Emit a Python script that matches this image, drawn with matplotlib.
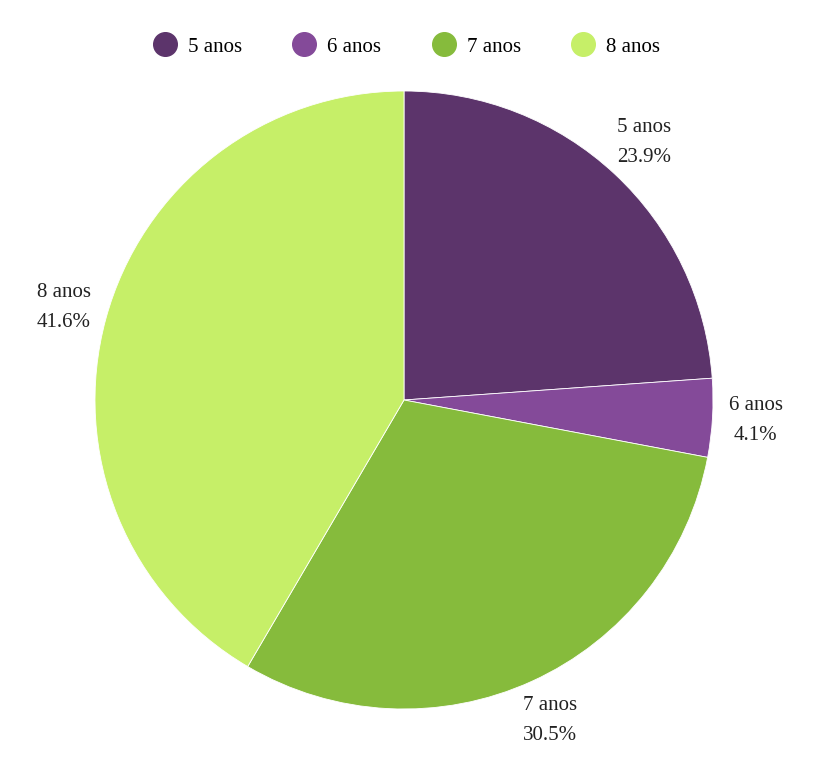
import matplotlib
matplotlib.use("Agg")
import matplotlib.pyplot as plt
from matplotlib.lines import Line2D

categories = ["5 anos", "6 anos", "7 anos", "8 anos"]
values = [23.9, 4.1, 30.5, 41.6]
colors = ["#5c346b", "#844a99", "#86bb3c", "#c6ef68"]

plt.rcParams['font.family'] = ['Liberation Serif', 'DejaVu Serif']

W, H = 814, 768
fig = plt.figure(figsize=(W/100, H/100), dpi=100)
cx, cy, R = 404, 400, 309
ax = fig.add_axes([(cx-R)/W, (H-cy-R)/H, 2*R/W, 2*R/H])

labels = [f"{c}\n{v:.1f}%" for c, v in zip(categories, values)]
wedges, texts = ax.pie(values, colors=colors, startangle=90, counterclock=False,
                       labels=labels, labeldistance=1.14,
                       wedgeprops=dict(edgecolor="white", linewidth=0.6),
                       textprops=dict(fontsize=15, color="#222222", ha="center", va="center",
                                      linespacing=1.8))
for t in texts:
    t.set_ha("center")
ax.set_xlim(-1, 1)
ax.set_ylim(-1, 1)
ax.set_aspect("equal")
ax.axis("off")

handles = [Line2D([0], [0], marker="o", linestyle="", markersize=17,
                  markerfacecolor=c, markeredgecolor=c) for c in colors]
fig.legend(handles, categories, loc="center", bbox_to_anchor=(0.499, 1-47/H), ncol=4,
           frameon=False, fontsize=15, handletextpad=0.5, columnspacing=2.4,
           handlelength=1.2)

fig.savefig("out.png", dpi=100, facecolor="white")
